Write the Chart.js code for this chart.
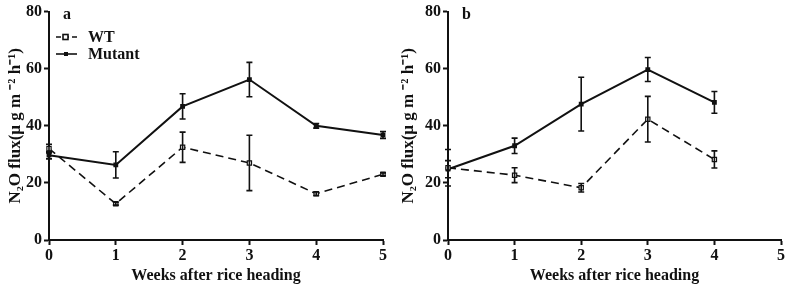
<!DOCTYPE html>
<html>
<head>
<meta charset="utf-8">
<script src="https://cdn.jsdelivr.net/npm/chart.js@4.4.1/dist/chart.umd.min.js"></script>
<style>
  body { margin: 0; background: #fff; }
  .wrap { display: flex; width: 787px; height: 285px; }
  .panel { position: relative; height: 285px; }
</style>
</head>
<body>
<div class="wrap">
  <div class="panel" style="width:393px"><canvas id="graficoA"></canvas></div>
  <div class="panel" style="width:394px"><canvas id="graficoB"></canvas></div>
</div>
<script>
// semanas despues del espigado
const semanasA = [0, 1, 2, 3, 4, 5]
const semanasB = [0, 1, 2, 3, 4]

// panel a
const wtA = [32, 12.7, 32.5, 27, 16.2, 23]
const wtErrA = [1.5, 0.5, 5.3, 9.7, 0.6, 0.5]
const mutA = [29.7, 26.3, 46.8, 56.2, 40, 36.8]
const mutErrA = [1.3, 4.6, 4.4, 6, 0.8, 1.2]

// panel b
const wtB = [25.3, 22.7, 18.3, 42.3, 28.2]
const wtErrB = [6.4, 2.6, 1.5, 8, 3]
const mutB = [24.8, 33, 47.6, 59.7, 48.2]
const mutErrB = [3, 2.7, 9.4, 4.2, 3.8]

const yTicks = [0, 20, 40, 60, 80]
const xTicks = [0, 1, 2, 3, 4, 5]
const etiquetas = ['WT', 'Mutant']

const fuente = "'Liberation Serif', 'Times New Roman', serif"

const puntos = (xs, ys) => xs.map((x, i) => ({ x: x, y: ys[i] }))

// barras de error
const barrasError = {
  id: 'barrasError',
  afterDatasetsDraw(chart) {
    const ctx = chart.ctx
    const xs = chart.scales.x
    const ys = chart.scales.y
    ctx.save()
    ctx.strokeStyle = '#111'
    ctx.lineWidth = 1.6
    chart.data.datasets.forEach((ds) => {
      ds.data.forEach((p, i) => {
        const e = ds.errores[i]
        const px = xs.getPixelForValue(p.x)
        const y1 = ys.getPixelForValue(p.y + e)
        const y2 = ys.getPixelForValue(p.y - e)
        ctx.beginPath()
        ctx.moveTo(px, y1); ctx.lineTo(px, y2)
        ctx.moveTo(px - 3, y1); ctx.lineTo(px + 3, y1)
        ctx.moveTo(px - 3, y2); ctx.lineTo(px + 3, y2)
        ctx.stroke()
      })
    })
    ctx.restore()
  }
}

// letra del panel y leyenda
const extras = {
  id: 'extras',
  afterDraw(chart, args, opts) {
    const ctx = chart.ctx
    const left = chart.chartArea.left
    ctx.save()
    ctx.fillStyle = '#111'
    ctx.textBaseline = 'middle'
    ctx.font = 'bold 16px ' + fuente
    ctx.fillText(opts.letra, left + 14, 15)
    if (opts.leyenda) {
      ctx.font = 'bold 16px ' + fuente
      const filas = [
        { y: 37, dash: [5, 3], lleno: false },
        { y: 54, dash: [], lleno: true }
      ]
      filas.forEach((f, i) => {
        ctx.strokeStyle = '#111'
        ctx.lineWidth = 1.6
        ctx.setLineDash(f.dash)
        ctx.beginPath()
        ctx.moveTo(left + 7, f.y); ctx.lineTo(left + 28, f.y)
        ctx.stroke()
        ctx.setLineDash([])
        if (f.lleno) {
          ctx.fillRect(left + 15, f.y - 2, 4, 4)
        } else {
          ctx.fillStyle = '#fff'
          ctx.fillRect(left + 14, f.y - 2.5, 5, 5)
          ctx.strokeRect(left + 14, f.y - 2.5, 5, 5)
          ctx.fillStyle = '#111'
        }
        ctx.fillText(etiquetas[i], left + 39, f.y + 1)
      })
    }
    ctx.restore()
  }
}

function crearGrafico(id, semanas, wt, wtErr, mut, mutErr, anchoY, derecha, letra, leyenda) {
  const el = document.getElementById(id)
  return new Chart(el, {
    type: 'line',
    data: {
      datasets: [
        {
          label: etiquetas[0],
          data: puntos(semanas, wt),
          errores: wtErr,
          borderColor: '#111',
          borderWidth: 1.6,
          borderDash: [8, 5],
          pointStyle: 'rect',
          pointRadius: 3,
          pointBackgroundColor: '#fff',
          pointBorderColor: '#111',
          pointBorderWidth: 1.2,
          tension: 0,
          clip: false
        },
        {
          label: etiquetas[1],
          data: puntos(semanas, mut),
          errores: mutErr,
          borderColor: '#111',
          borderWidth: 2,
          pointStyle: 'rect',
          pointRadius: 2,
          pointBackgroundColor: '#111',
          pointBorderColor: '#111',
          tension: 0,
          clip: false
        }
      ]
    },
    options: {
      responsive: true,
      maintainAspectRatio: false,
      animation: false,
      layout: { padding: { top: 5, right: derecha, left: 0, bottom: 0 } },
      plugins: {
        legend: { display: false },
        tooltip: { enabled: false },
        extras: { letra: letra, leyenda: leyenda }
      },
      scales: {
        x: {
          type: 'linear',
          min: 0,
          max: 5,
          afterBuildTicks: (s) => { s.ticks = xTicks.map((v) => ({ value: v })) },
          afterFit: (s) => { s.height = 45 },
          border: { color: '#111', width: 2 },
          grid: { drawOnChartArea: false, tickLength: 5, tickColor: '#111', tickWidth: 2 },
          ticks: { color: '#111', padding: 1, font: { family: fuente, size: 16, weight: 'bold' } },
          title: {
            display: true,
            text: 'Weeks after rice heading',
            color: '#111',
            padding: { top: 0, bottom: 0 },
            font: { family: fuente, size: 16, weight: 'bold' }
          }
        },
        y: {
          min: 0,
          max: 80,
          afterBuildTicks: (s) => { s.ticks = yTicks.map((v) => ({ value: v })) },
          afterFit: (s) => { s.width = anchoY },
          border: { color: '#111', width: 2 },
          grid: { drawOnChartArea: false, tickLength: 5, tickColor: '#111', tickWidth: 2 },
          ticks: { color: '#111', padding: 2, font: { family: fuente, size: 16, weight: 'bold' } },
          title: {
            display: true,
            text: 'N₂O flux(μ g m ⁻² h⁻¹)',
            color: '#111',
            padding: { top: 5, bottom: 0 },
            font: { family: fuente, size: 17, weight: 'bold' }
          }
        }
      }
    },
    plugins: [barrasError, extras]
  })
}

crearGrafico('graficoA', semanasA, wtA, wtErrA, mutA, mutErrA, 49, 10, 'a', true)
crearGrafico('graficoB', semanasB, wtB, wtErrB, mutB, mutErrB, 55, 4, 'b', false)
</script>
</body>
</html>
